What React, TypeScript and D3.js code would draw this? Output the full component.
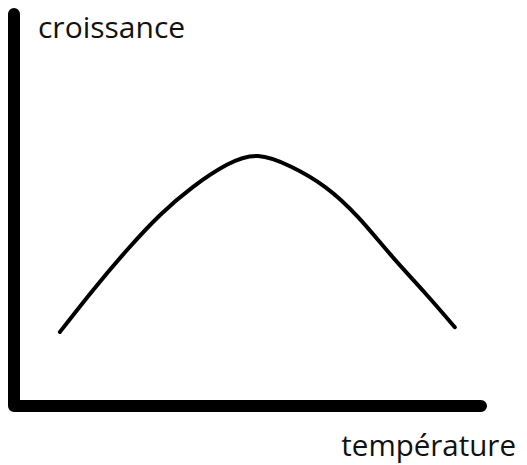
import React from "react";
import * as d3 from "d3";

// hand-drawn growth vs temperature curve
const temperature = [9.7, 16.7, 23.9, 30.9, 37.8, 45, 51.6, 58.6, 65.8, 72.7, 79.7, 86.9, 93.2];
const growth = [18.6, 29.1, 39.2, 48, 55, 60.6, 62.8, 60.1, 55, 47.5, 37.9, 28.4, 19.8];
const axisLabels = ["croissance", "température"];

export default function App() {
  const width = 527;
  const height = 465;
  // scales: axes corner sits at (0,0)
  const x = d3.scaleLinear().domain([0, 100]).range([14, 487]);
  const y = d3.scaleLinear().domain([0, 100]).range([406, 8]);

  const points = temperature.map((t, i) => [t, growth[i]] as [number, number]);
  const line = d3
    .line<[number, number]>()
    .curve(d3.curveNatural)
    .x((d) => x(d[0]))
    .y((d) => y(d[1]));

  // axes as a single L-shaped stroke
  const axis = d3.path();
  axis.moveTo(x(0), y(100) + 6);
  axis.lineTo(x(0), y(0));
  axis.lineTo(x(100) - 6, y(0));

  return (
    <svg
      width={width}
      height={height}
      style={{ position: "absolute", left: 0, top: 0, background: "#fff" }}
    >
      <path
        d={axis.toString()}
        fill="none"
        stroke="#000"
        strokeWidth={12}
        strokeLinecap="round"
        strokeLinejoin="round"
      />
      <path
        d={line(points) ?? ""}
        fill="none"
        stroke="#000"
        strokeWidth={4}
        strokeLinecap="round"
      />
      <text x={38} y={38} fontFamily="Open Sans" fontSize={30} fill="#111">
        {axisLabels[0]}
      </text>
      <text
        x={516}
        y={456}
        textAnchor="end"
        fontFamily="Open Sans"
        fontSize={29.5}
        fill="#111"
      >
        {axisLabels[1]}
      </text>
    </svg>
  );
}
